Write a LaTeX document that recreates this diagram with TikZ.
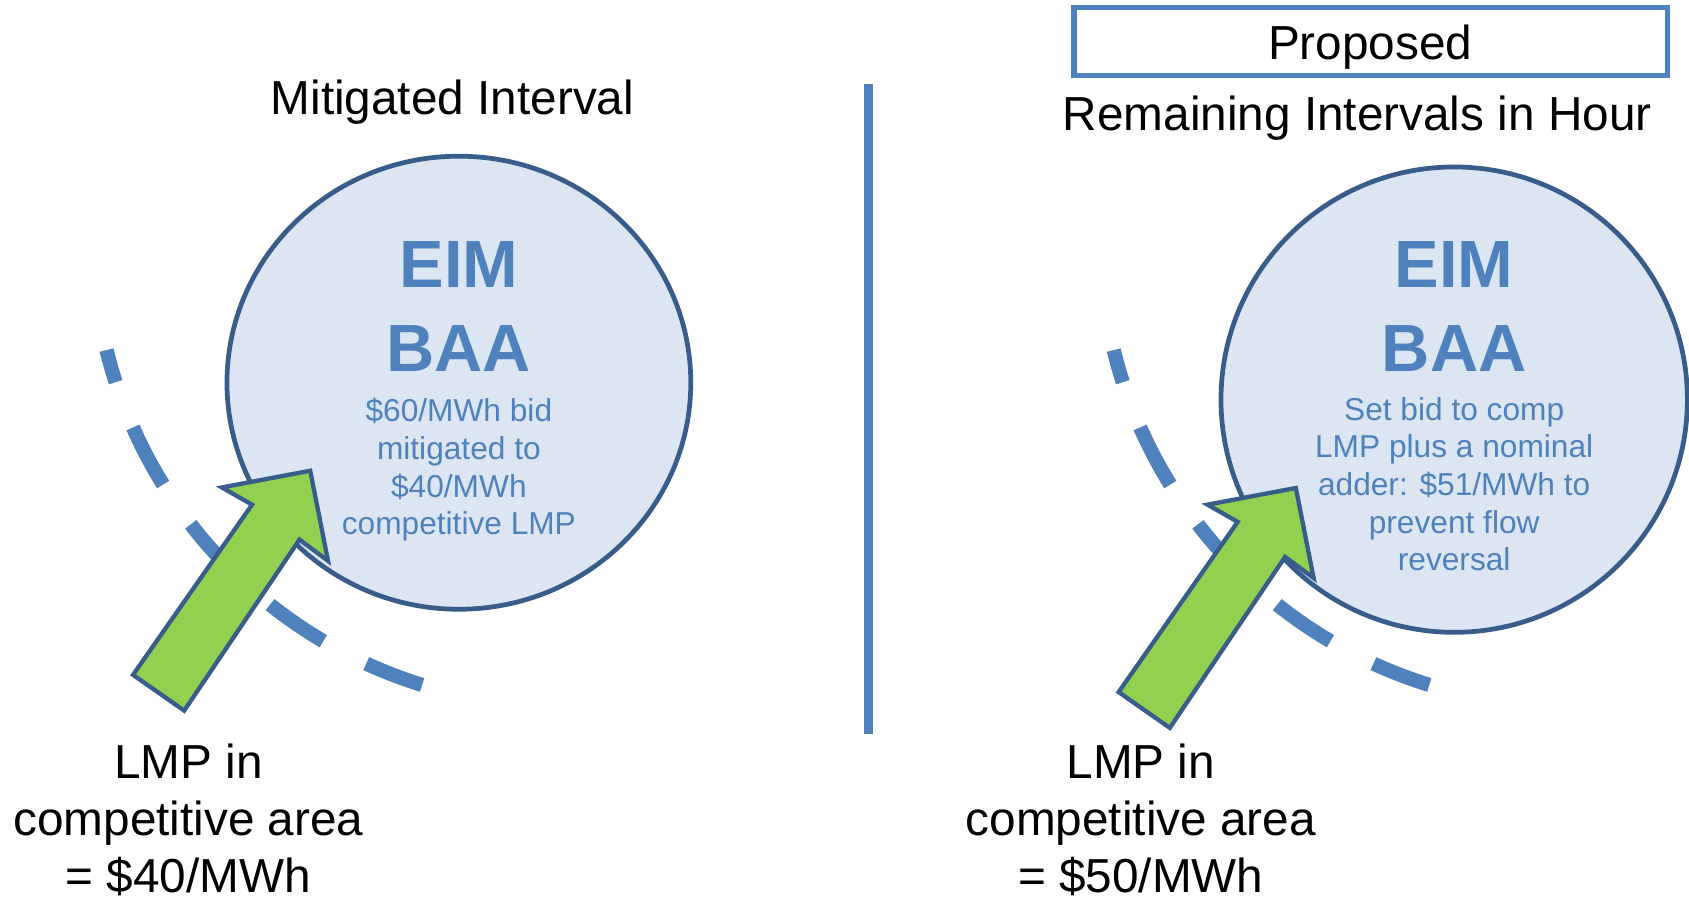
\documentclass[tikz,border=0pt]{standalone}
\usepackage{fontspec}
\setmainfont{Liberation Sans}
\definecolor{txtblue}{HTML}{4F81BD}
\definecolor{darkblue}{HTML}{385D8A}
\definecolor{circfill}{HTML}{DCE6F2}
\definecolor{arrgreen}{HTML}{92D050}
\begin{document}
\begin{tikzpicture}[x=0.5pt,y=-0.5pt,
  bodytxt/.style={font=\fontsize{22.15pt}{26.6pt}\selectfont, inner sep=0pt, anchor=base, text=black},
  bigtxt/.style={font=\fontsize{31pt}{37pt}\selectfont\bfseries, inner sep=0pt, anchor=base, text=txtblue},
  smalltxt/.style={font=\fontsize{14.7pt}{17.6pt}\selectfont, inner sep=0pt, anchor=base, text=txtblue},
  baa/.style={draw=darkblue, line width=2.2pt, fill=circfill},
  greenarrow/.style={draw=darkblue, line width=2pt, fill=arrgreen, line join=miter},
  dashline/.style={draw=txtblue, line width=6.6pt, dash pattern=on 30pt off 22.5pt, dash phase=14.5pt}]
\useasboundingbox (0,0) rectangle (1568,836);
\fill[white] (0,0) rectangle (1568,836);

% divider
\coordinate (vtop) at (806,78);
\coordinate (vbot) at (806,681);
\draw[txtblue, line width=4pt] (vtop) -- (vbot);

% ---------- left panel ----------
\node[bodytxt] (ltitle) at (420,106) {Mitigated Interval};
\draw[dashline] (98.9,325) arc[start angle=193.86, end angle=252.75, radius=217.25pt];
\draw[baa] (426,355.3) ellipse[x radius=107.65pt, y radius=105.15pt];
\node[bigtxt] (leim) at (426,267) {EIM};
\node[bigtxt] (lbaa) at (426,345) {BAA};
\node[smalltxt] (ls1) at (426,391.5) {\$60/MWh bid};
\node[smalltxt] (ls2) at (426,426.5) {mitigated to};
\node[smalltxt] (ls3) at (426,461.5) {\$40/MWh};
\node[smalltxt] (ls4) at (426,496.5) {competitive LMP};
\draw[greenarrow] (288,437) -- (304.5,520.6) -- (278,501) -- (171,659.7) -- (123.5,626.5) -- (234,468.5) -- (206,452.5) -- cycle;
\node[bodytxt] (lb1) at (175,722.7) {LMP in};
\node[bodytxt] (lb2) at (175,775.7) {competitive area};
\node[bodytxt] (lb3) at (175,828.7) {= \$40/MWh};

% ---------- right panel ----------
\node[draw=txtblue, line width=2.5pt, minimum width=275.5pt, minimum height=31.5pt, inner sep=0pt] (propbox) at (1272.5,38.5) {};
\node[bodytxt] (prop) at (1272,55.5) {Proposed};
\node[bodytxt] (rtitle) at (1260,121) {Remaining Intervals in Hour};
\draw[dashline] (1033.9,325) arc[start angle=193.86, end angle=252.75, radius=217.25pt];
\draw[baa] (1350,371) ellipse[x radius=108.25pt, y radius=108pt];
\node[bigtxt] (reim) at (1350,267) {EIM};
\node[bigtxt] (rbaa) at (1350,345) {BAA};
\node[smalltxt] (rs1) at (1350,390) {Set bid to comp};
\node[smalltxt] (rs2) at (1350,425) {LMP plus a nominal};
\node[smalltxt] (rs3) at (1350,460) {adder: \$51/MWh to};
\node[smalltxt] (rs4) at (1350,495) {prevent flow};
\node[smalltxt] (rs5) at (1350,530) {reversal};
\begin{scope}[shift={(915,16)}]
\draw[greenarrow] (288,437) -- (304.5,520.6) -- (278,501) -- (171,659.7) -- (123.5,626.5) -- (234,468.5) -- (206,452.5) -- cycle;
\end{scope}
\node[bodytxt] (rb1) at (1059,722.7) {LMP in};
\node[bodytxt] (rb2) at (1059,775.7) {competitive area};
\node[bodytxt] (rb3) at (1059,828.7) {= \$50/MWh};
\end{tikzpicture}
\end{document}
